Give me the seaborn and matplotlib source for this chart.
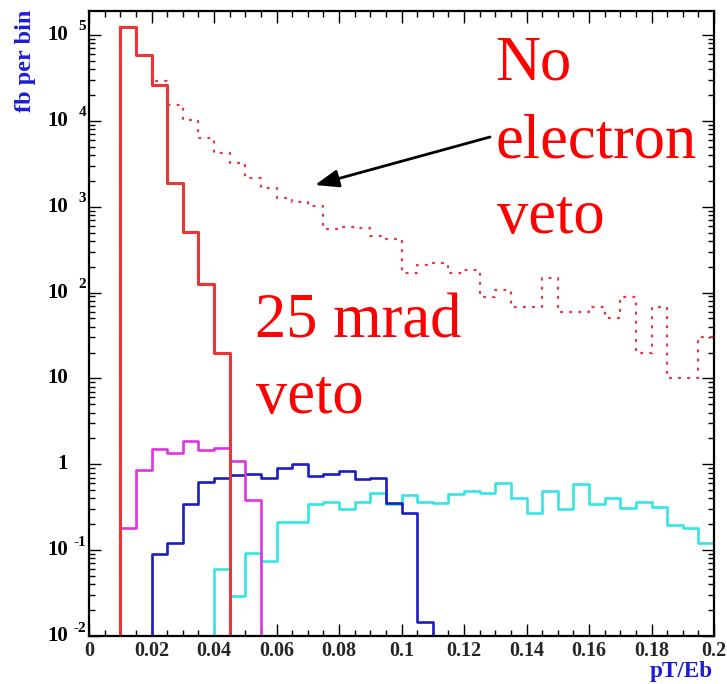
import numpy as np
import pandas as pd
import matplotlib
matplotlib.use("Agg")
import matplotlib.pyplot as plt
import matplotlib.transforms as mtransforms
from matplotlib.ticker import MultipleLocator, LogLocator, NullFormatter, FixedLocator, FixedFormatter
import seaborn as sns

# ---------------- data (fb per bin, bins of width 0.005 in pT/Eb) ----------------
bin_lo = [round(0.005 * i, 3) for i in range(40)]
bin_width = 0.005

veto_25mrad = [0, 0, 1.23e5, 5.8e4, 2.6e4, 1.88e3, 505, 125, 19.9] + [0] * 31
no_electron_veto = [0, 0, 1.23e5, 5.8e4, 2.9e4, 1.52e4, 1.02e4,
                    6.3e3, 4.2e3, 3.2e3, 2.15e3, 1.64e3,
                    1.26e3, 1.13e3, 1.01e3, 547, 582,
                    557, 454, 419, 167, 208,
                    222, 170, 182, 89, 107,
                    68, 68, 146, 60, 60,
                    68, 50, 88, 19.5, 68,
                    10, 10, 30]
magenta_bg = [0, 0, 0.18, 0.86, 1.5, 1.35, 1.88, 1.46, 1.56, 1.09, 0.38] + [0] * 29
blue_bg = [0, 0, 0, 0, 0.089, 0.122, 0.344, 0.615, 0.70, 0.75, 0.77, 0.70, 0.91, 1.0,
           0.73, 0.77, 0.84, 0.67, 0.70, 0.353, 0.272, 0.0147] + [0] * 18
cyan_bg = [0] * 8 + [0.060, 0.0294, 0.093, 0.075, 0.211, 0.211, 0.344, 0.36, 0.30, 0.36,
                     0.458, 0.341, 0.438, 0.366, 0.351, 0.446, 0.488, 0.458, 0.60, 0.40,
                     0.272, 0.488, 0.30, 0.588, 0.341, 0.40, 0.312, 0.366, 0.32, 0.196,
                     0.182, 0.12]

x_tick_vals = [0, 0.02, 0.04, 0.06, 0.08, 0.1, 0.12, 0.14, 0.16, 0.18, 0.2]
x_tick_labels = ["0", "0.02", "0.04", "0.06", "0.08", "0.1", "0.12", "0.14", "0.16", "0.18", "0.2"]
y_decades = [-2, -1, 0, 1, 2, 3, 4, 5]
y_base_labels = ["10", "10", "1", "10", "10", "10", "10", "10"]
y_exp_labels = ["-2", "-1", "", "", "2", "3", "4", "5"]

# ---------------- figure ----------------
sns.set_style("ticks")
SERIF = "Liberation Serif"

fig = plt.figure(figsize=(7.27, 6.84), dpi=100)
ax = fig.add_axes([89 / 727, 1 - 636 / 684, 625 / 727, 625 / 684])

edges = [round(v, 3) for v in bin_lo] + [round(bin_lo[-1] + bin_width, 3)]
centers = np.array(bin_lo) + bin_width / 2

series = [
    (cyan_bg, dict(color="#33e6e6", linewidth=1.9)),
    (blue_bg, dict(color="#1c1cc4", linewidth=1.9)),
    (magenta_bg, dict(color="#e034e0", linewidth=1.9)),
    (no_electron_veto, dict(color="#e03a48", linewidth=1.6, linestyle=(0, (1.3, 2.8)))),
    (veto_25mrad, dict(color="#ee3535", linewidth=2.2)),
]
for vals, kw in series:
    df = pd.DataFrame({"pt": centers, "w": vals})
    sns.histplot(data=df, x="pt", weights="w", bins=edges, element="step",
                 fill=False, ax=ax, **kw)

ax.set_yscale("log")
ax.set_xlim(0, 0.2)
ax.set_ylim(1e-2, 1.9e5)
ax.set_xlabel("")
ax.set_ylabel("")

for sp in ax.spines.values():
    sp.set_visible(True)
    sp.set_linewidth(1.6)
    sp.set_color("black")

ax.xaxis.set_major_locator(FixedLocator(x_tick_vals))
ax.xaxis.set_major_formatter(FixedFormatter(x_tick_labels))
ax.xaxis.set_minor_locator(MultipleLocator(0.005))
ax.yaxis.set_major_locator(FixedLocator([10.0 ** d for d in y_decades]))
ax.yaxis.set_major_formatter(NullFormatter())
ax.yaxis.set_minor_locator(LogLocator(base=10, subs=np.arange(2, 10), numticks=20))
ax.yaxis.set_minor_formatter(NullFormatter())
ax.tick_params(which="both", direction="in", top=True, right=True, width=1.0, color="black")
ax.tick_params(which="major", length=8.5)
ax.tick_params(which="minor", length=4.3)
ax.tick_params(axis="x", which="major", pad=3.5, labelsize=14.5)
for lab in ax.get_xticklabels():
    lab.set_fontfamily(SERIF)
    lab.set_fontweight("bold")

# y tick labels in ROOT style (base + raised exponent)
trans = mtransforms.blended_transform_factory(ax.transAxes, ax.transData)
trans_exp = mtransforms.offset_copy(trans, fig=fig, x=0, y=8, units="dots")
for d, base, ex in zip(y_decades, y_base_labels, y_exp_labels):
    ax.text(-0.0336, 10.0 ** d, base, transform=trans, ha="right", va="center",
            fontsize=15, fontweight="bold", family=SERIF, color="black")
    if ex:
        ax.text(-0.0048, 10.0 ** d, ex, transform=trans_exp, ha="right", va="center",
                fontsize=11, fontweight="bold", family=SERIF, color="black")

# axis titles
fig.text(25 / 727, 1 - 10 / 684, "fb per bin", rotation=90, ha="center", va="top",
         fontsize=17.5, fontweight="bold", family=SERIF, color="#1c1cd6")
fig.text(713 / 727, 1 - 677 / 684, "pT/Eb", ha="right", va="baseline",
         fontsize=16.7, fontweight="bold", family=SERIF, color="#1c1cd6")

# annotations
def axfrac(px, py):
    return ((px - 89) / 625, (636 - py) / 625)

for txt, (px, py) in [("No", (495, 80)), ("electron", (495, 157)), ("veto", (497, 233)),
                      ("25 mrad", (255, 338)), ("veto", (256, 413))]:
    fx, fy = axfrac(px, py)
    ax.text(fx, fy, txt, transform=ax.transAxes, ha="left", va="baseline",
            fontsize=45, family=SERIF, color="#ff0000")

ax.annotate("", xy=axfrac(315, 185), xycoords="axes fraction",
            xytext=axfrac(490, 137), textcoords="axes fraction",
            arrowprops=dict(arrowstyle="-|>,head_length=0.8,head_width=0.3",
                            color="black", lw=2, mutation_scale=18,
                            shrinkA=0, shrinkB=0))

fig.savefig("out.png", dpi=100, facecolor="white")
